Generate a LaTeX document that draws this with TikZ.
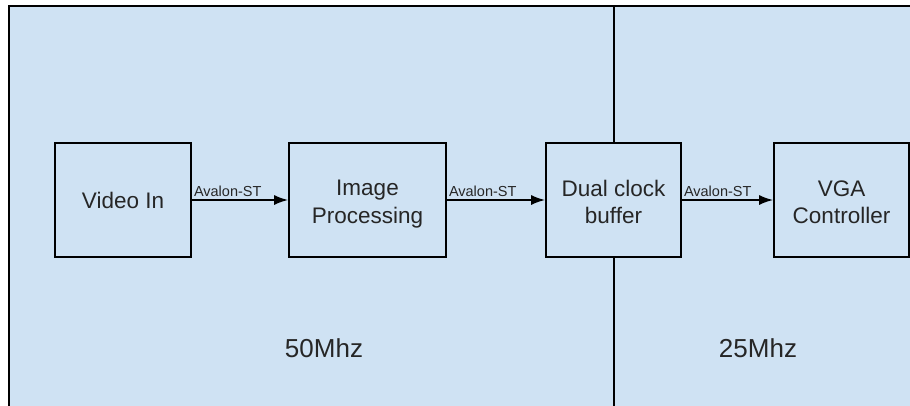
\documentclass[tikz,border=0pt]{standalone}
\usepackage{fontspec}
\setmainfont{Liberation Sans}
\usetikzlibrary{arrows.meta}
\definecolor{zone}{HTML}{CFE2F3}
\definecolor{ink}{HTML}{262626}
\tikzset{
  blockbox/.style={draw=black, line width=1.6pt, fill=zone, minimum height=114pt, inner sep=0pt},
  blocktext/.style={align=center, text=ink, font=\fontsize{22.5}{27.5}\selectfont, inner sep=0pt},
  link/.style={draw=black, line width=1.8pt, -{Latex[length=14pt,width=10pt]}},
  linklabel/.style={anchor=south west, inner sep=0pt, text=ink, font=\fontsize{14.5}{16}\selectfont},
  freq/.style={text=ink, font=\fontsize{26}{30}\selectfont}
}
\begin{document}
\begin{tikzpicture}[x=1pt,y=-1pt]
\useasboundingbox (0,0) rectangle (910,405);
\fill[white] (0,0) rectangle (910,405);
\clip (0,0) rectangle (910,405);
\draw[line width=1.6pt, fill=zone] (9,6) rectangle (920,415);
\coordinate (divtop) at (614,6);
\coordinate (divbot) at (614,415);
\draw[line width=1.6pt] (divtop) -- (divbot);
\node[blockbox, minimum width=136pt, label={[blocktext]center:Video In}] (vin) at (123,200) {};
\node[blockbox, minimum width=157pt, label={[blocktext,yshift=-4pt]center:{Image\\Processing}}] (ip) at (367.5,200) {};
\node[blockbox, minimum width=135pt, label={[blocktext,yshift=-2pt]center:{Dual clock\\buffer}}] (dcb) at (613.5,200) {};
\node[blockbox, minimum width=135pt, label={[blocktext,yshift=-2pt]center:{VGA\\Controller}}] (vga) at (841.5,200) {};
\draw[link] (vin.east) -- (ip.west);
\draw[link] (ip.east) -- (dcb.west);
\draw[link] (dcb.east) -- (vga.west);
\node[linklabel] (l1) at ([shift={(2pt,3pt)}]vin.east) {Avalon-ST};
\node[linklabel] (l2) at ([shift={(2pt,3pt)}]ip.east) {Avalon-ST};
\node[linklabel] (l3) at ([shift={(2pt,3pt)}]dcb.east) {Avalon-ST};
\node[freq] (f50) at (324,348) {50Mhz};
\node[freq] (f25) at (758,348) {25Mhz};
\end{tikzpicture}
\end{document}
